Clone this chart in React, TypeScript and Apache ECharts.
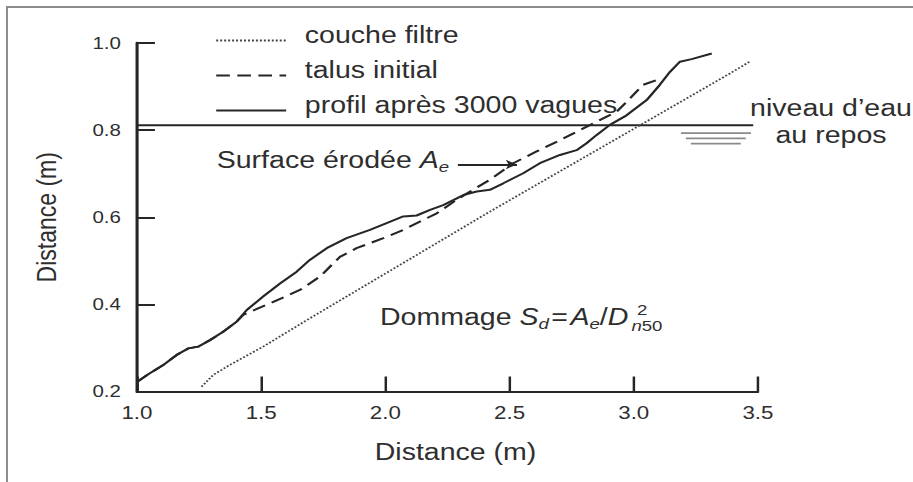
import React, { useEffect, useRef } from "react";
import * as echarts from "echarts";

// ---- data (x = distance horizontale en m, y = distance verticale en m) ----
const X_TICKS_MIN = 1.0;
const X_TICKS_MAX = 3.5;
const X_INTERVAL = 0.5;
const Y_TICKS_MIN = 0.2;
const Y_TICKS_MAX = 1.0;
const Y_INTERVAL = 0.2;

const LEGEND_NAMES = ["couche filtre", "talus initial", "profil après 3000 vagues"];

const coucheFiltre: number[][] = [
  [1.26, 0.211], [1.307, 0.238], [1.374, 0.261], [1.508, 0.303], [1.696, 0.368],
  [2.421, 0.613], [3.037, 0.815], [3.387, 0.93], [3.472, 0.959],
];

const talusInitial: number[][] = [
  [1.0, 0.222], [1.052, 0.242], [1.106, 0.261], [1.16, 0.284], [1.207, 0.299],
  [1.247, 0.303], [1.294, 0.318], [1.347, 0.337], [1.401, 0.36], [1.428, 0.376],
  [1.522, 0.399], [1.656, 0.433], [1.737, 0.464], [1.817, 0.509], [1.884, 0.529],
  [1.992, 0.552], [2.072, 0.571], [2.153, 0.594], [2.207, 0.609], [2.287, 0.64],
  [2.341, 0.659], [2.421, 0.686], [2.515, 0.724], [2.609, 0.751], [2.703, 0.777],
  [2.797, 0.804], [2.877, 0.827], [2.931, 0.842], [2.985, 0.873], [3.038, 0.904],
  [3.112, 0.919],
];

const profilApres: number[][] = [
  [1.0, 0.222], [1.052, 0.242], [1.106, 0.261], [1.16, 0.284], [1.207, 0.299],
  [1.247, 0.303], [1.294, 0.318], [1.347, 0.337], [1.401, 0.36], [1.442, 0.387],
  [1.508, 0.418], [1.576, 0.448], [1.643, 0.475], [1.696, 0.502], [1.764, 0.529],
  [1.844, 0.552], [1.938, 0.571], [2.072, 0.602], [2.126, 0.604], [2.18, 0.617],
  [2.233, 0.628], [2.314, 0.651], [2.368, 0.659], [2.421, 0.663], [2.475, 0.678],
  [2.555, 0.701], [2.622, 0.724], [2.703, 0.743], [2.77, 0.754], [2.81, 0.77],
  [2.851, 0.789], [2.904, 0.812], [2.971, 0.834], [3.052, 0.869], [3.105, 0.904],
  [3.146, 0.934], [3.186, 0.957], [3.233, 0.963], [3.314, 0.976],
];

const niveauEau: number[][] = [[1.0, 0.811], [3.481, 0.811]];
const symboleEau1: number[][] = [[3.19, 0.793], [3.472, 0.793]];
const symboleEau2: number[][] = [[3.21, 0.781], [3.451, 0.781]];
const symboleEau3: number[][] = [[3.23, 0.769], [3.431, 0.769]];
const flecheSurface: number[][] = [[2.292, 0.721], [2.53, 0.721]];

// ---- layout ----
const PAGE_W = 913;
const PAGE_H = 482;
const CHART_W = 736;
const SX = PAGE_W / CHART_W;
const FONT = "'Liberation Sans', Arial, Helvetica, sans-serif";
const INK = "#262626";
const TXT = "#2e2e2e";

const fmt = (v: number) => v.toFixed(1);

function buildOption(): any {
  const grayLine = (name: string, data: number[][]) => ({
    name,
    type: "line",
    data,
    symbol: "none",
    silent: true,
    itemStyle: { color: "#8a8a8a" },
    lineStyle: { color: "#8a8a8a", width: 1.6 },
    z: 2,
  });
  return {
    animation: false,
    color: [INK, INK, INK],
    textStyle: { fontFamily: FONT },
    grid: { left: 110.4, top: 43, width: 500.6, height: 348.5, containLabel: false },
    legend: {
      data: LEGEND_NAMES,
      orient: "vertical",
      left: 173.3,
      top: 23,
      padding: 0,
      itemGap: 0,
      itemWidth: 56.4,
      itemHeight: 14,
      selectedMode: false,
      itemStyle: { opacity: 0, borderWidth: 0 },
      formatter: "{t|{name}}",
      textStyle: {
        fontFamily: FONT,
        fontSize: 23,
        color: TXT,
        rich: {
          t: {
            fontFamily: FONT,
            fontSize: 23,
            color: TXT,
            lineHeight: 20,
            padding: [0, 0, 12, 10],
          },
        },
      },
    },
    xAxis: {
      type: "value",
      min: X_TICKS_MIN,
      max: X_TICKS_MAX,
      interval: X_INTERVAL,
      name: "Distance (m)",
      nameLocation: "middle",
      nameGap: 49,
      nameTextStyle: { fontFamily: FONT, fontSize: 23, color: TXT, padding: [0, 0, 0, 13] },
      axisLine: { show: true, lineStyle: { color: INK, width: 2.2 } },
      axisTick: { show: true, inside: true, length: 15, lineStyle: { color: INK, width: 2 } },
      axisLabel: { formatter: fmt, fontFamily: FONT, fontSize: 18, color: TXT, margin: 12 },
      splitLine: { show: false },
    },
    yAxis: {
      type: "value",
      min: Y_TICKS_MIN,
      max: Y_TICKS_MAX,
      interval: Y_INTERVAL,
      name: "Distance (m)",
      nameLocation: "middle",
      nameGap: 62,
      nameTextStyle: { fontFamily: FONT, fontSize: 23, color: TXT },
      axisLine: { show: true, lineStyle: { color: INK, width: 2.5 } },
      axisTick: { show: true, inside: true, length: 14.5, lineStyle: { color: INK, width: 2 } },
      axisLabel: { formatter: fmt, fontFamily: FONT, fontSize: 16.5, color: TXT, margin: 13 },
      splitLine: { show: false },
    },
    series: [
      {
        name: LEGEND_NAMES[0],
        type: "line",
        data: coucheFiltre,
        symbol: "none",
        itemStyle: { color: "#444" },
        lineStyle: { color: "#444", width: 1.7, type: [1.6, 1.6] },
        z: 3,
      },
      {
        name: LEGEND_NAMES[1],
        type: "line",
        data: talusInitial,
        symbol: "none",
        itemStyle: { color: INK },
        lineStyle: { color: INK, width: 2, type: [11, 6] },
        z: 4,
      },
      {
        name: LEGEND_NAMES[2],
        type: "line",
        data: profilApres,
        symbol: "none",
        itemStyle: { color: INK },
        lineStyle: { color: INK, width: 2, type: "solid" },
        z: 5,
      },
      {
        name: "niveau",
        type: "line",
        data: niveauEau,
        symbol: "none",
        silent: true,
        itemStyle: { color: INK },
        lineStyle: { color: INK, width: 2 },
        z: 2,
      },
      grayLine("eau1", symboleEau1),
      grayLine("eau2", symboleEau2),
      grayLine("eau3", symboleEau3),
      {
        name: "fleche",
        type: "line",
        data: [],
        silent: true,
        markLine: {
          silent: true,
          symbol: ["none", "arrow"],
          symbolSize: [7, 9],
          label: { show: false },
          lineStyle: { color: INK, width: 1.8, type: "solid" },
          data: [[{ coord: flecheSurface[0] }, { coord: flecheSurface[1] }]],
        },
      },
    ],
    graphic: [
      {
        type: "text",
        x: 174.7,
        y: 160,
        silent: true,
        style: {
          text: "Surface érodée {i|A}{sub|e}",
          fontFamily: FONT,
          fontSize: 23,
          lineHeight: 30,
          fill: TXT,
          verticalAlign: "middle",
          rich: {
            i: { fontFamily: FONT, fontSize: 23, fontStyle: "italic", lineHeight: 30, fill: TXT },
            sub: { fontFamily: FONT, fontSize: 15, fontStyle: "italic", lineHeight: 14, verticalAlign: "bottom", fill: TXT },
          },
        },
      },
      {
        type: "text",
        x: 306.3,
        y: 317,
        silent: true,
        style: {
          text: "Dommage {i|S}{sub|d}{eq|=}{i|A}{sub|e}{n|/}{i|D}",
          fontFamily: FONT,
          fontSize: 23,
          lineHeight: 30,
          fill: TXT,
          verticalAlign: "middle",
          rich: {
            i: { fontFamily: FONT, fontSize: 23, fontStyle: "italic", lineHeight: 30, fill: TXT },
            n: { fontFamily: FONT, fontSize: 23, lineHeight: 30, fill: TXT },
            eq: { fontFamily: FONT, fontSize: 23, lineHeight: 30, fill: TXT, padding: [0, 2, 0, 2] },
            sub: { fontFamily: FONT, fontSize: 15, fontStyle: "italic", lineHeight: 14, verticalAlign: "bottom", fill: TXT },
          },
        },
      },
      {
        type: "text",
        x: 509,
        y: 326,
        silent: true,
        style: {
          text: "{i|n}50",
          fontFamily: FONT,
          fontSize: 15,
          fill: TXT,
          verticalAlign: "middle",
          rich: { i: { fontFamily: FONT, fontSize: 15, fontStyle: "italic", fill: TXT } },
        },
      },
      {
        type: "text",
        x: 513.5,
        y: 310,
        silent: true,
        style: { text: "2", fontFamily: FONT, fontSize: 15, fill: TXT, verticalAlign: "middle" },
      },
      {
        type: "text",
        x: 669.9,
        y: 121.5,
        silent: true,
        style: {
          text: "niveau d’eau\nau repos",
          fontFamily: FONT,
          fontSize: 23,
          lineHeight: 27,
          fill: TXT,
          align: "center",
          verticalAlign: "middle",
        },
      },
    ],
  };
}

export default function App() {
  const ref = useRef<HTMLDivElement>(null);
  useEffect(() => {
    if (!ref.current) return;
    const chart = echarts.init(ref.current, null, { renderer: "svg" });
    chart.setOption(buildOption());
    return () => chart.dispose();
  }, []);
  return (
    <div
      style={{
        position: "absolute",
        left: 0,
        top: 0,
        width: PAGE_W,
        height: PAGE_H,
        overflow: "hidden",
        background: "#fff",
      }}
    >
      <div
        style={{
          position: "absolute",
          left: 6,
          top: 6,
          right: -4,
          bottom: -4,
          borderTop: "2px solid #8c8c8c",
          borderLeft: "2px solid #8c8c8c",
        }}
      />
      <div
        ref={ref}
        style={{
          position: "absolute",
          left: 0,
          top: 0,
          width: CHART_W,
          height: PAGE_H,
          transform: `scaleX(${SX})`,
          transformOrigin: "0 0",
        }}
      />
    </div>
  );
}
